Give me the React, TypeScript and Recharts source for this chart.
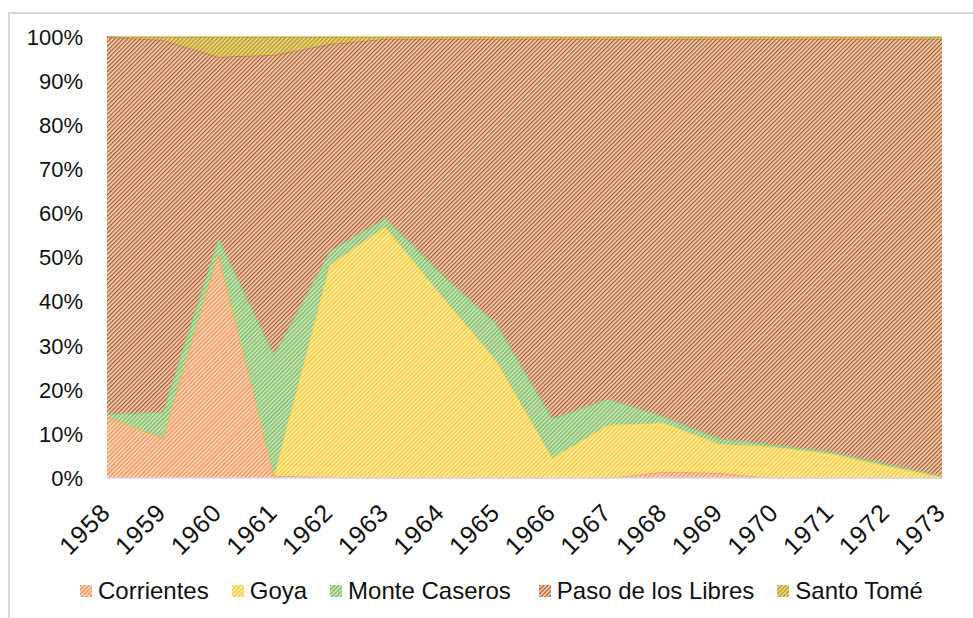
import { AreaChart, Area, XAxis, YAxis } from 'recharts';

// share of each locality per year (%)
const years = ['1958', '1959', '1960', '1961', '1962', '1963', '1964', '1965', '1966', '1967', '1968', '1969', '1970', '1971', '1972', '1973'];
const corrientes = [14, 9, 51, 0.5, 0.3, 0, 0, 0, 0, 0, 1.5, 1.2, 0, 0, 0, 0];
const goya = [0, 0, 0, 0, 48, 57, 41.5, 26.5, 4.5, 12, 11, 6.5, 7, 5.5, 2.7, 0.3];
const monteCaseros = [0.5, 6, 3.5, 27.5, 3.2, 2, 5, 8.5, 9, 6, 1.5, 1.3, 0.5, 0.5, 0.6, 0.2];
const pasoDeLosLibres = [85.5, 84.4, 41, 68, 46.9, 40.6, 53.1, 64.6, 86.1, 81.6, 85.6, 90.6, 92.1, 93.6, 96.3, 99.1];
const santoTome = [0, 0.6, 4.5, 4, 1.6, 0.4, 0.4, 0.4, 0.4, 0.4, 0.4, 0.4, 0.4, 0.4, 0.4, 0.4];
const yTicks = [0, 0.1, 0.2, 0.3, 0.4, 0.5, 0.6, 0.7, 0.8, 0.9, 1];

const series = [
  { key: 'corrientes', name: 'Corrientes', light: '#fddcc6', dark: '#f08c4c' },
  { key: 'goya', name: 'Goya', light: '#fff0b5', dark: '#ffc31f' },
  { key: 'monteCaseros', name: 'Monte Caseros', light: '#d3e9c6', dark: '#72b552' },
  { key: 'pasoDeLosLibres', name: 'Paso de los Libres', light: '#f7d6bc', dark: '#a8582a' },
  { key: 'santoTome', name: 'Santo Tomé', light: '#efdd8a', dark: '#b0921a' },
];

const data = years.map((year, i) => ({
  year,
  corrientes: corrientes[i],
  goya: goya[i],
  monteCaseros: monteCaseros[i],
  pasoDeLosLibres: pasoDeLosLibres[i],
  santoTome: santoTome[i],
}));

const font = '"Liberation Sans", Arial, Helvetica, sans-serif';

function YearTick({ x, y, payload }: any) {
  return (
    <g transform={`translate(${x + 5},${y + 28})`}>
      <text x={0} y={0} textAnchor="end" transform="rotate(-45)" fontSize={25} letterSpacing={1} fill="#111" fontFamily={font}>
        {payload.value}
      </text>
    </g>
  );
}

function Swatch({ id }: { id: string }) {
  return (
    <svg width={12} height={12} style={{ display: 'block' }}>
      <rect width={12} height={12} fill={`url(#pat-${id})`} />
    </svg>
  );
}

export default function App() {
  return (
    <div style={{ position: 'absolute', left: 0, top: 0, width: 973, height: 618, background: '#fff', fontFamily: font }}>
      <div style={{ position: 'absolute', left: 8, top: 12, width: 980, height: 620, borderTop: '2px solid #d9d9d9', borderLeft: '2px solid #d9d9d9' }} />
      <AreaChart
        width={973}
        height={618}
        data={data}
        stackOffset="expand"
        margin={{ top: 37, right: 31, left: 0, bottom: 0 }}
        style={{ position: 'absolute', left: 0, top: 0 }}
      >
        <defs>
          {series.map(s => (
            <pattern key={s.key} id={`pat-${s.key}`} patternUnits="userSpaceOnUse" width={3} height={3} patternTransform="rotate(45)">
              <rect width={3} height={3} fill={s.light} />
              <rect width={1.3} height={3} fill={s.dark} />
            </pattern>
          ))}
        </defs>
        <XAxis
          dataKey="year"
          height={140}
          tickLine={false}
          axisLine={{ stroke: '#d9d9d9', strokeWidth: 1.5 }}
          tick={<YearTick />}
          interval={0}
        />
        <YAxis
          width={107}
          domain={[0, 1]}
          ticks={yTicks}
          tickFormatter={(v: number) => `${Math.round(v * 100)}%`}
          tickLine={false}
          axisLine={false}
          tickSize={6}
          tickMargin={18}
          tick={{ fill: '#111', fontSize: 22, fontFamily: font }}
        />
        {series.map(s => (
          <Area
            key={s.key}
            type="linear"
            dataKey={s.key}
            name={s.name}
            stackId="1"
            fill={`url(#pat-${s.key})`}
            fillOpacity={1}
            stroke={s.dark}
            strokeOpacity={0.45}
            strokeWidth={2}
            isAnimationActive={false}
          />
        ))}
      </AreaChart>
      <div style={{ position: 'absolute', left: 80, top: 577, display: 'flex', alignItems: 'center', fontSize: 24, color: '#111', whiteSpace: 'nowrap' }}>
        {series.map((s, i) => (
          <div key={s.key} style={{ display: 'flex', alignItems: 'center', marginRight: i === 2 ? 28 : 23 }}>
            <Swatch id={s.key} />
            <span style={{ marginLeft: 6 }}>{s.name}</span>
          </div>
        ))}
      </div>
    </div>
  );
}
